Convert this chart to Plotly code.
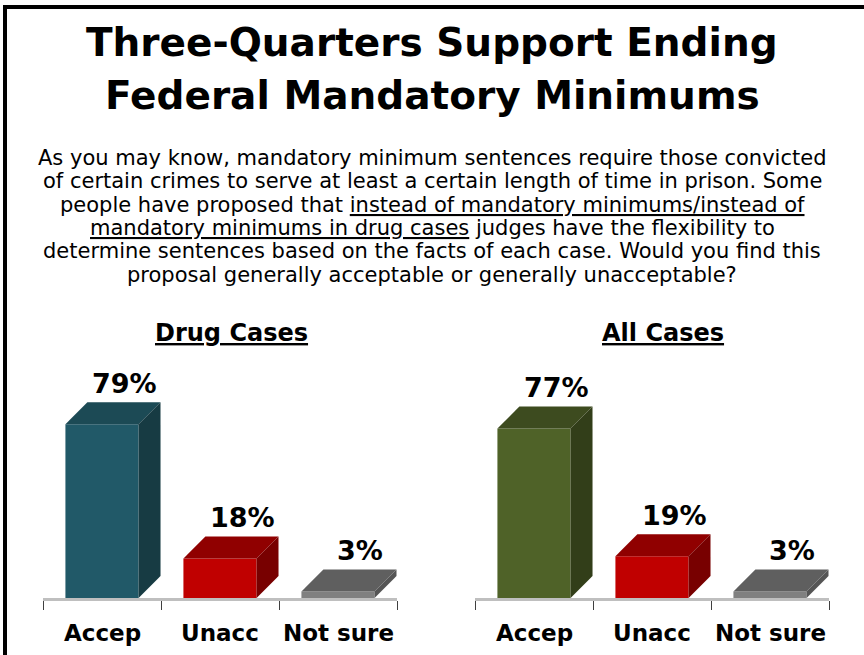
import plotly.graph_objects as go

W, H = 864, 655

# ---- data ----
categories = ["Accep", "Unacc", "Not sure"]
drug_values = [79, 18, 3]
all_values = [77, 19, 3]
panel_titles = ["Drug Cases", "All Cases"]
title_lines = ["Three-Quarters Support Ending", "Federal Mandatory Minimums"]
question_lines = [
    "As you may know, mandatory minimum sentences require those convicted",
    "of certain crimes to serve at least a certain length of time in prison. Some",
    "people have proposed that <u>instead of mandatory minimums/instead of</u>",
    "<u>mandatory minimums in drug cases</u> judges have the flexibility to",
    "determine sentences based on the facts of each case. Would you find this",
    "proposal generally acceptable or generally unacceptable?",
]

# ---- styles ----
FONT = "DejaVu Sans"
front_colors = [["#215968", "#c00000", "#808080"], ["#4f6228", "#c00000", "#808080"]]
top_colors = [["#1c4a55", "#900000", "#5f5f5f"], ["#3d4b1f", "#900000", "#5f5f5f"]]
side_colors = [["#173b43", "#780000", "#555555"], ["#323e19", "#780000", "#555555"]]

BAR_W = 0.62
DX = 0.186   # depth offset in category units
DY = 10.0    # depth offset in value units
YMAX = 110

def px(x):
    return x / W

def py(y):
    return 1 - y / H

fig = go.Figure()

panels = [drug_values, all_values]
xdomains = [[px(43), px(397)], [px(475), px(829)]]
ydomain = [py(598), py(598 - 2.2 * YMAX)]

for p, values in enumerate(panels):
    xa = "x" if p == 0 else "x2"
    ya = "y" if p == 0 else "y2"
    xs = list(range(len(categories)))
    fig.add_trace(go.Bar(
        x=xs, y=values, width=BAR_W, xaxis=xa, yaxis=ya,
        marker=dict(color=front_colors[p], line=dict(width=0)),
        showlegend=False, hoverinfo="skip",
    ))
    for i, v in enumerate(values):
        x0 = i - BAR_W / 2
        x1 = i + BAR_W / 2
        # top face
        fig.add_trace(go.Scatter(
            x=[x0, x1, x1 + DX, x0 + DX, x0],
            y=[v, v, v + DY, v + DY, v],
            fill="toself", fillcolor=top_colors[p][i], mode="lines",
            line=dict(width=0, color=top_colors[p][i]),
            xaxis=xa, yaxis=ya, showlegend=False, hoverinfo="skip",
        ))
        # side face
        fig.add_trace(go.Scatter(
            x=[x1, x1 + DX, x1 + DX, x1, x1],
            y=[0, DY, v + DY, v, 0],
            fill="toself", fillcolor=side_colors[p][i], mode="lines",
            line=dict(width=0, color=side_colors[p][i]),
            xaxis=xa, yaxis=ya, showlegend=False, hoverinfo="skip",
        ))
        # value label
        fig.add_annotation(
            x=i + 0.19, y=v + DY + 8.5, xref=xa, yref=ya,
            text=f"<b>{v}%</b>", showarrow=False,
            font=dict(family=FONT, size=27, color="black"),
            xanchor="center", yanchor="middle",
        )
        # category label
        fig.add_annotation(
            x=i, y=py(633), xref=xa, yref="paper",
            text=f"<b>{categories[i]}</b>", showarrow=False,
            font=dict(family=FONT, size=23, color="black"),
            xanchor="center", yanchor="middle",
        )
    # panel title
    cx = [231, 663][p]
    fig.add_annotation(
        x=px(cx), y=py(333), xref="paper", yref="paper",
        text=f"<b><u>{panel_titles[p]}</u></b>", showarrow=False,
        font=dict(family=FONT, size=24, color="black"),
        xanchor="center", yanchor="middle",
    )

# main title
for k, (line, yc) in enumerate(zip(title_lines, [43, 96])):
    fig.add_annotation(
        x=px(432), y=py(yc), xref="paper", yref="paper",
        text=f"<b>{line}</b>", showarrow=False,
        font=dict(family=FONT, size=39, color="black"),
        xanchor="center", yanchor="middle",
    )

# question text
q_y = [158, 181.3, 204.6, 227.9, 251.2, 274.5]
for line, yc in zip(question_lines, q_y):
    fig.add_annotation(
        x=px(432), y=py(yc), xref="paper", yref="paper",
        text=line, showarrow=False,
        font=dict(family=FONT, size=21, color="black"),
        xanchor="center", yanchor="middle",
    )

axis_common = dict(
    range=[-0.5, 2.5], tickmode="array", tickvals=[-0.5, 0.5, 1.5, 2.5],
    ticktext=["", "", "", ""], ticks="outside", ticklen=9, tickwidth=1,
    tickcolor="#404040", showline=True, linecolor="#bfbfbf", linewidth=3,
    showgrid=False, zeroline=False, fixedrange=True,
)
yaxis_common = dict(range=[0, YMAX], domain=ydomain, visible=False,
                    showgrid=False, zeroline=False, fixedrange=True)

fig.update_layout(
    width=W, height=H,
    margin=dict(l=0, r=0, t=0, b=0),
    paper_bgcolor="white", plot_bgcolor="rgba(0,0,0,0)",
    xaxis=dict(domain=xdomains[0], anchor="y", **axis_common),
    xaxis2=dict(domain=xdomains[1], anchor="y2", **axis_common),
    yaxis=dict(anchor="x", **yaxis_common),
    yaxis2=dict(anchor="x2", **yaxis_common),
    barmode="overlay",
    shapes=[
        dict(type="line", xref="paper", yref="paper", x0=px(3), x1=1.02,
             y0=py(7), y1=py(7), line=dict(color="black", width=4)),
        dict(type="line", xref="paper", yref="paper", x0=px(5), x1=px(5),
             y0=py(5), y1=-0.02, line=dict(color="black", width=4)),
    ],
)

fig.write_html("out.html")
